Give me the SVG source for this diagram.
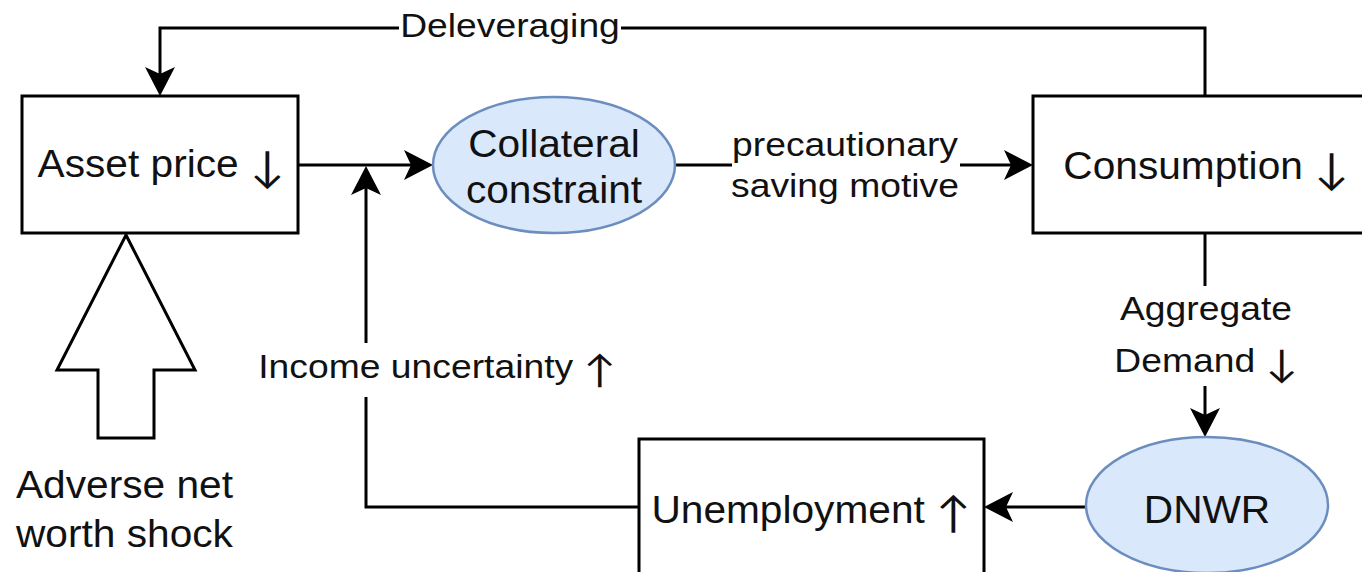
<svg xmlns="http://www.w3.org/2000/svg" width="1362" height="572" viewBox="0 0 1362 572">
<style>
.box{fill:#fff;stroke:#000;stroke-width:3}
.ell{fill:#dae8fc;stroke:#6c8ebf;stroke-width:2.5}
.con{fill:none;stroke:#000;stroke-width:3}
text{font-family:"Liberation Sans",Arial,Helvetica,sans-serif;fill:#111}
.n{font-size:38px}
.e{font-size:33px}
.m{text-anchor:middle}
.an{font-family:Lato,sans-serif;font-size:43px}
.ae{font-family:Lato,sans-serif;font-size:38px}
</style>
<defs>
<marker id="arr" markerUnits="userSpaceOnUse" viewBox="0 0 29 30" markerWidth="29" markerHeight="30" refX="7" refY="15" orient="auto">
<path d="M0,0 L29,15 L0,30 L7,15 Z" fill="#000"/>
</marker>
</defs>
<rect width="1362" height="572" fill="#fff"/>
<g id="connectors">
<path class="con" d="M1205,96 V28 H621 M399,28 H160 V74" marker-end="url(#arr)"/>
<path class="con" d="M298,165 H411" marker-end="url(#arr)"/>
<path class="con" d="M675,165 H732 M960,165 H1011" marker-end="url(#arr)"/>
<path class="con" d="M1205,233 V286 M1205,386 V415" marker-end="url(#arr)"/>
<path class="con" d="M1086,507 H1006" marker-end="url(#arr)"/>
<path class="con" d="M639,507 H366 V397 M366,343 V188" marker-end="url(#arr)"/>
<text class="e m" transform="translate(510,37) scale(1.13,1)">Deleveraging</text>
<text class="e m" transform="translate(845,156) scale(1.13,1)">precautionary</text>
<text class="e m" transform="translate(845,197) scale(1.13,1)">saving motive</text>
<text class="e m" transform="translate(1206,320) scale(1.13,1)">Aggregate</text>
<text class="e m" transform="translate(1206,372) scale(1.13,1)">Demand <tspan class="ae" dy="5">↓</tspan></text>
<text class="e m" transform="translate(437,378) scale(1.13,1)">Income uncertainty <tspan class="ae" dy="5">↑</tspan></text>
</g>
<g id="asset-price">
<rect class="box" x="22" y="96" width="276" height="137"/>
<text class="n m" transform="translate(161,177) scale(1.07,1)">Asset price <tspan class="an" dy="5">↓</tspan></text>
</g>
<g id="collateral-constraint">
<ellipse class="ell" cx="554" cy="165" rx="121" ry="68"/>
<text class="n m" transform="translate(554,157) scale(1.07,1)">Collateral</text>
<text class="n m" transform="translate(554,203) scale(1.07,1)">constraint</text>
</g>
<g id="consumption">
<rect class="box" x="1033" y="96" width="346" height="137"/>
<text class="n m" transform="translate(1206,179) scale(1.07,1)">Consumption <tspan class="an" dy="5">↓</tspan></text>
</g>
<g id="dnwr">
<ellipse class="ell" cx="1207" cy="505" rx="121" ry="68"/>
<text class="n m" transform="translate(1207,523) scale(1.07,1)">DNWR</text>
</g>
<g id="unemployment">
<rect class="box" x="639" y="439" width="345" height="137"/>
<text class="n m" transform="translate(811,523) scale(1.07,1)">Unemployment <tspan class="an" dy="5">↑</tspan></text>
</g>
<g id="shock">
<polygon points="126,235 195,370 154,370 154,438 98,438 98,370 57,370" fill="#fff" stroke="#000" stroke-width="3"/>
<text class="n" transform="translate(16,498) scale(1.07,1)">Adverse net</text>
<text class="n" transform="translate(16,547) scale(1.07,1)">worth shock</text>
</g>
</svg>
